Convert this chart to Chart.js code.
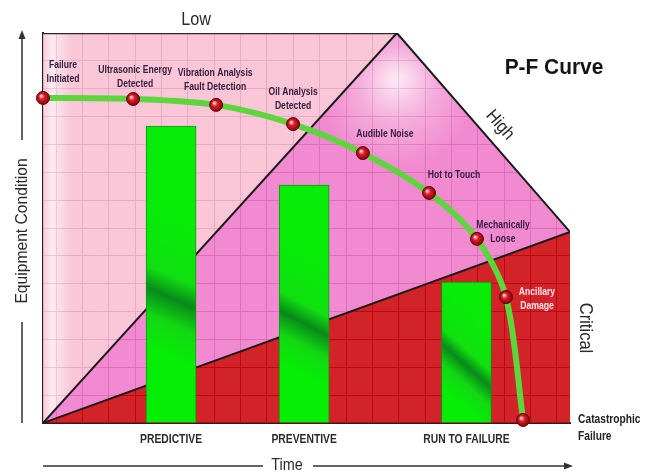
<!DOCTYPE html>
<html>
<head>
<meta charset="utf-8">
<script src="https://cdn.jsdelivr.net/npm/chart.js@4.4.0/dist/chart.umd.min.js"></script>
<style>
body { margin: 0; background: #fff; }
#wrap { width: 645px; height: 475px; }
</style>
</head>
<body>
<div id="wrap"><canvas id="pfChart"></canvas></div>
<script>
// stages along the P-F curve (time, equipment condition)
var stageNames = [["Failure", "Initiated"], ["Ultrasonic Energy", "Detected"], ["Vibration Analysis", "Fault Detection"],
    ["Oil Analysis", "Detected"], ["Audible Noise"], ["Hot to Touch"], ["Mechanically", "Loose"], ["Ancillary", "Damage"],
    ["Catastrophic", "Failure"]];
var stageTime = [0, 3.42, 6.57, 9.49, 12.14, 14.65, 16.47, 17.57, 18.22];
var stageCondition = [11.67, 11.63, 11.42, 10.73, 9.69, 8.26, 6.61, 4.52, 0.11];

// maintenance strategies drawn as bars
var strategyNames = ["PREDICTIVE", "PREVENTIVE", "RUN TO FAILURE"];
var strategyTime = [4.86, 9.91, 16.07];
var strategyValue = [10.66, 8.54, 5.06];

// cost zones (Low / High / Critical)
var maxTime = 20, maxCondition = 14;
var zoneNames = ["Low", "High", "Critical"];
var highPeak = { x: 13.43, y: 14 };
var criticalEdge = { x: 20, y: 6.86 };

var FONT = '"Liberation Sans", Arial, sans-serif';

function scalesReady(chart) {
    var a = chart.chartArea;
    return chart.scales.x && a && isFinite(a.left) && a.right > a.left;
}
function pointBall(c) {
    var chart = c.chart;
    if (!c.parsed || !scalesReady(chart)) { return '#d0141c'; }
    var px = chart.scales.x.getPixelForValue(c.parsed.x);
    var py = chart.scales.y.getPixelForValue(c.parsed.y);
    if (!isFinite(px) || !isFinite(py)) { return '#d0141c'; }
    var g = chart.ctx.createRadialGradient(px - 2, py - 2, 0.5, px, py, 7);
    g.addColorStop(0, '#ffd8d8');
    g.addColorStop(0.35, '#e0202a');
    g.addColorStop(1, '#780008');
    return g;
}
function barShade(c) {
    var chart = c.chart;
    if (!c.parsed || !scalesReady(chart)) { return '#10ea10'; }
    var px = chart.scales.x.getPixelForValue(c.parsed.x);
    var top = chart.scales.y.getPixelForValue(c.parsed.y);
    var bottom = chart.scales.y.getPixelForValue(0);
    if (!isFinite(px) || !isFinite(top) || !isFinite(bottom)) { return '#10ea10'; }
    var h = bottom - top;
    var g = chart.ctx.createLinearGradient(px + 25, top + h * 0.35, px - 25, top + h * 0.75);
    g.addColorStop(0, '#08ec08');
    g.addColorStop(0.4, '#10e010');
    g.addColorStop(0.56, '#088a1a');
    g.addColorStop(0.75, '#12d812');
    g.addColorStop(1, '#06ee06');
    return g;
}
function highShade(c) {
    var chart = c.chart;
    if (!scalesReady(chart)) { return 'rgba(239,124,202,0.88)'; }
    var px = chart.scales.x.getPixelForValue(highPeak.x);
    var py = chart.scales.y.getPixelForValue(highPeak.y);
    var g = chart.ctx.createRadialGradient(px, py + 45, 2, px, py + 60, 75);
    g.addColorStop(0, 'rgba(252,228,242,0.88)');
    g.addColorStop(0.5, 'rgba(243,160,214,0.88)');
    g.addColorStop(1, 'rgba(239,122,202,0.88)');
    return g;
}
function lowShade(c) {
    var chart = c.chart;
    if (!scalesReady(chart)) { return 'rgba(249,193,211,0.88)'; }
    var a = chart.chartArea;
    var g = chart.ctx.createLinearGradient(a.left, 0, a.left + 60, 0);
    g.addColorStop(0, 'rgba(249,196,214,0.88)');
    g.addColorStop(0.15, 'rgba(254,232,238,0.88)');
    g.addColorStop(0.45, 'rgba(249,193,211,0.88)');
    g.addColorStop(1, 'rgba(249,190,210,0.88)');
    return g;
}

var pfText = {
    id: 'pfText',
    afterDatasetsDraw: function (chart) {
        var c = chart.ctx, area = chart.chartArea, xs = chart.scales.x;
        c.save();
        c.textBaseline = 'middle';
        c.textAlign = 'center';
        // stage labels next to the curve points
        var offsets = [[20, -33], [2, -29], [-1, -32], [0, -32], [22, -19], [25, -18], [26, -14], [31, -5], [55, 0]];
        var pts = chart.getDatasetMeta(0).data;
        pts.forEach(function (p, i) {
            var lines = stageNames[i];
            if (i == pts.length - 1) {
                c.font = 'bold 12px ' + FONT;
                c.fillStyle = '#222';
                c.textAlign = 'left';
                lines.forEach(function (t, k) {
                    c.fillText(t, p.x + offsets[i][0], p.y + offsets[i][1] + k * 17, c.measureText(t).width * 0.85);
                });
                c.textAlign = 'center';
                return;
            }
            c.font = 'bold 10px ' + FONT;
            c.fillStyle = i == 7 ? '#ffe8ee' : '#35203f';
            lines.forEach(function (t, k) {
                c.fillText(t, p.x + offsets[i][0], p.y + offsets[i][1] + k * 14, c.measureText(t).width * 0.86);
            });
        });
        // strategy names under the bars
        c.font = 'bold 12px ' + FONT;
        c.fillStyle = '#2a2a2a';
        strategyTime.forEach(function (t, i) {
            var s = strategyNames[i];
            c.fillText(s, xs.getPixelForValue(t), area.bottom + 17, c.measureText(s).width * 0.86);
        });
        // zone names
        c.fillStyle = '#2a2a2a';
        c.font = '18px ' + FONT;
        c.fillText(zoneNames[0], 196, 20, c.measureText(zoneNames[0]).width * 0.9);
        c.save();
        c.translate(500, 125);
        c.rotate(49 * Math.PI / 180);
        c.fillText(zoneNames[1], 0, 0, c.measureText(zoneNames[1]).width * 0.9);
        c.restore();
        c.save();
        c.translate(585, 328);
        c.rotate(Math.PI / 2);
        c.fillText(zoneNames[2], 0, 0, c.measureText(zoneNames[2]).width * 0.92);
        c.restore();
        // title
        c.fillStyle = '#151515';
        c.font = 'bold 22px ' + FONT;
        c.fillText('P-F Curve', 554, 68, c.measureText('P-F Curve').width * 0.95);
        // axis captions with arrows
        c.fillStyle = '#2a2a2a';
        c.font = '17px ' + FONT;
        c.save();
        c.translate(22, 231);
        c.rotate(-Math.PI / 2);
        c.fillText('Equipment Condition', 0, 0, c.measureText('Equipment Condition').width * 0.92);
        c.restore();
        c.font = '16px ' + FONT;
        c.fillText('Time', 287, 466, c.measureText('Time').width * 0.9);
        c.strokeStyle = '#333';
        c.lineWidth = 1.5;
        c.beginPath();
        c.moveTo(22, area.bottom); c.lineTo(22, 322);
        c.moveTo(22, 140); c.lineTo(22, 38);
        c.moveTo(area.left, 466); c.lineTo(263, 466);
        c.moveTo(313, 466); c.lineTo(566, 466);
        c.stroke();
        c.beginPath();
        c.moveTo(22, 30); c.lineTo(18.5, 39); c.lineTo(25.5, 39); c.closePath();
        c.moveTo(573, 466); c.lineTo(564, 462.5); c.lineTo(564, 469.5); c.closePath();
        c.fillStyle = '#333';
        c.fill();
        c.restore();
    }
};

var ctx = document.getElementById("pfChart").getContext("2d");
var pfChart = new Chart(ctx, {
    type: 'line',
    data: {
        datasets: [
            {
                label: 'P-F Curve',
                data: stageTime.map(function (t, i) { return { x: t, y: stageCondition[i] }; }),
                borderColor: '#5cd63c',
                borderWidth: 6,
                tension: 0.3,
                pointRadius: 6.5,
                pointBackgroundColor: pointBall,
                pointBorderColor: '#6a0008',
                pointBorderWidth: 1,
                clip: false,
                fill: false
            },
            {
                type: 'bar',
                label: 'Strategy',
                data: strategyTime.map(function (t, i) { return { x: t, y: strategyValue[i] }; }),
                backgroundColor: barShade,
                borderColor: '#0a9a14',
                borderWidth: 1,
                barThickness: 50
            },
            {
                label: 'Critical',
                data: [{ x: 0, y: 0 }, criticalEdge],
                borderColor: '#1a1a1a',
                borderWidth: 2,
                pointRadius: 0,
                backgroundColor: 'rgba(204,4,10,0.88)',
                fill: 'origin'
            },
            {
                label: 'High',
                data: [{ x: 0, y: 0 }, highPeak, criticalEdge],
                borderColor: '#1a1a1a',
                borderWidth: 2,
                pointRadius: 0,
                backgroundColor: highShade,
                fill: 2
            },
            {
                label: 'Low',
                data: [{ x: 0, y: maxCondition }, highPeak],
                borderColor: '#2a2a2a',
                borderWidth: 2.5,
                pointRadius: 0,
                backgroundColor: lowShade,
                fill: 3
            },
            {
                label: 'Outside',
                data: [highPeak, { x: maxTime, y: maxCondition }],
                borderWidth: 0,
                pointRadius: 0,
                backgroundColor: '#ffffff',
                fill: 3
            }
        ]
    },
    options: {
        responsive: true,
        maintainAspectRatio: false,
        animation: false,
        layout: { padding: { left: 43, right: 75, top: 33, bottom: 52 } },
        plugins: { legend: { display: false }, tooltip: { enabled: false } },
        scales: {
            x: {
                type: 'linear', min: 0, max: maxTime, offset: false,
                ticks: { display: false, stepSize: 1 },
                grid: { color: 'rgb(100,30,80)', drawTicks: false },
                border: { color: '#222', width: 2 }
            },
            y: {
                type: 'linear', min: 0, max: maxCondition,
                ticks: { display: false, stepSize: 1 },
                grid: { color: 'rgb(100,30,80)', drawTicks: false },
                border: { color: '#222', width: 2 }
            }
        }
    },
    plugins: [pfText]
});
</script>
</body>
</html>
